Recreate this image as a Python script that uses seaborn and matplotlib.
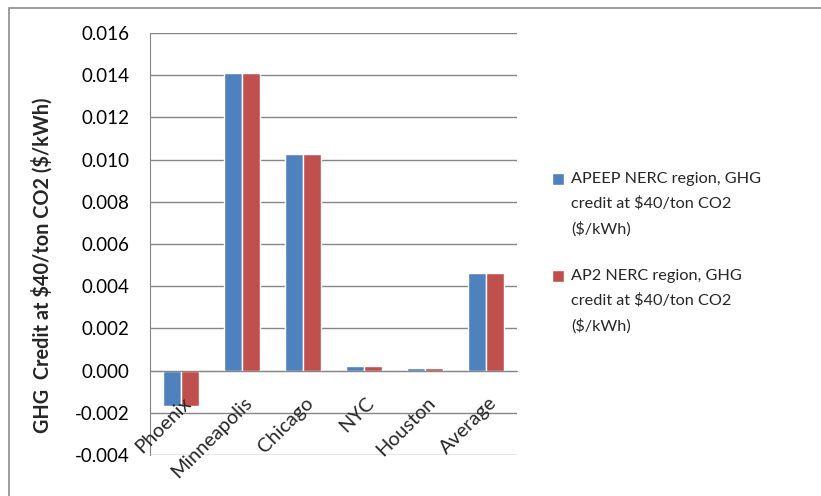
import numpy as np
import pandas as pd
import matplotlib
matplotlib.use("Agg")
import matplotlib.pyplot as plt
import matplotlib.transforms as mtransforms
from matplotlib.font_manager import FontProperties
from matplotlib.legend_handler import HandlerPatch
import seaborn as sns

cities = ["Phoenix", "Minneapolis", "Chicago", "NYC", "Houston", "Average"]
apeep = [-0.00168, 0.0141, 0.01025, 0.0002, 0.00011, 0.00464]
ap2 = [-0.00168, 0.0141, 0.01025, 0.0002, 0.00011, 0.00464]
series = ["APEEP NERC region, GHG\ncredit at \\$40/ton CO2\n(\\$/kWh)",
          "AP2 NERC region, GHG\ncredit at \\$40/ton CO2\n(\\$/kWh)"]
yticks = [-0.004, -0.002, 0.0, 0.002, 0.004, 0.006, 0.008, 0.010, 0.012, 0.014, 0.016]

df = pd.DataFrame({
    "city": cities * 2,
    "value": apeep + ap2,
    "series": [series[0]] * len(cities) + [series[1]] * len(cities),
})

sns.set_style("white")
plt.rcParams["font.family"] = ["Lato", "DejaVu Sans"]
grid_c = "#868686"
LEG_FS = 11.7

fig = plt.figure(figsize=(8.21, 4.96), dpi=100)
ax = fig.add_axes([150 / 821, 1 - 455 / 496, 367 / 821, 422 / 496])

sns.barplot(data=df, x="city", y="value", hue="series", order=cities,
            hue_order=series, palette=["#4F81BD", "#C0504D"], width=0.59,
            saturation=1, ax=ax, legend=True)

ax.set_ylim(-0.004, 0.016)
ax.set_yticks(yticks)
ax.set_yticklabels([f"{t:.3f}" for t in yticks], fontsize=13.5)
ax.yaxis.grid(True, color=grid_c, lw=1)
ax.set_axisbelow(True)
ax.tick_params(axis="y", length=6, color=grid_c, width=1, pad=8.5, labelcolor="#000000")

for s in ["top", "right"]:
    ax.spines[s].set_visible(False)
ax.spines["left"].set_color(grid_c)
ax.spines["bottom"].set_color(grid_c)
ax.spines["bottom"].set_position(("data", 0))

ax.set_xlim(-0.5, len(cities) - 0.5)
ax.set_xticks(np.arange(-0.5, len(cities), 1), minor=True)
ax.tick_params(axis="x", which="minor", length=5, color=grid_c, width=1, direction="out")
ax.tick_params(axis="x", which="major", length=0, pad=17)
ax.set_xticklabels(cities, rotation=45, ha="right", rotation_mode="anchor", fontsize=14.3)
shift = mtransforms.ScaledTranslation(1.0 / 72, 0, fig.dpi_scale_trans)
for lab in ax.get_xticklabels():
    lab.set_transform(lab.get_transform() + shift)
ax.xaxis.set_zorder(3)
ax.set_xlabel("")

ax.set_ylabel("GHG  Credit at \\$40/ton CO2 (\\$/kWh)", fontsize=14.3, fontweight="bold")
ax.yaxis.set_label_coords(-0.265, 0.45)

# legend line metrics in pixels: 23.3 px between lines, ~48 px between entries
renderer = fig.canvas.get_renderer()
fp = FontProperties(family=["Lato", "DejaVu Sans"], size=LEG_FS)
_, lp_h, lp_d = renderer.get_text_width_height_descent("lp", fp, ismath=False)
px_per_pt = fig.dpi / 72
line_gap_px = 23.3
line_sp = (line_gap_px - lp_d) / (lp_h - lp_d)
entry_sep = (47 - lp_h) / (LEG_FS * px_per_pt)
leg_top = 183.5 - (lp_h - lp_d)
square_y = (line_gap_px + 0.5 * lp_d) / px_per_pt


def top_square(legend, orig_handle, xdescent, ydescent, width, height, fontsize):
    # square next to the first line of a three-line label
    return plt.Rectangle((-xdescent, square_y), width, width)


leg = ax.legend(loc="upper left", bbox_to_anchor=(552.3 / 821, 1 - leg_top / 496),
                bbox_transform=fig.transFigure, frameon=False, fontsize=LEG_FS,
                handlelength=0.72, handletextpad=0.43, labelspacing=entry_sep,
                borderpad=0, borderaxespad=0,
                handler_map={matplotlib.patches.Rectangle: HandlerPatch(patch_func=top_square)})
for t in leg.get_texts():
    t.set_linespacing(line_sp)

fig.add_artist(plt.Rectangle((9 / 821, -0.1), 1.2, 1.1 - 8 / 496, transform=fig.transFigure,
                             fill=False, edgecolor="#8c8c8c", lw=1.2))

fig.savefig("out.png", dpi=100)
